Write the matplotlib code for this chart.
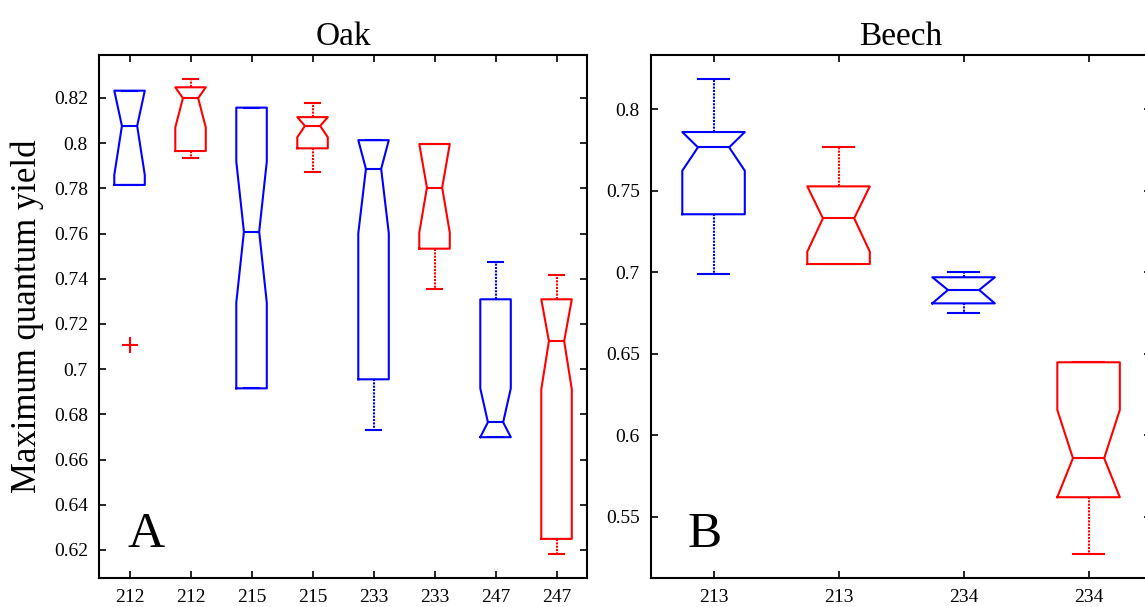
import matplotlib
matplotlib.use("Agg")
import matplotlib.pyplot as plt

plt.rcParams['font.family'] = ['Liberation Serif', 'DejaVu Serif']

# Oak panel (A): notched box stats
oak_labels = ['212', '212', '215', '215', '233', '233', '247', '247']
oak_whislo = [0.7815, 0.7933, 0.6915, 0.7874, 0.6731, 0.7356, 0.6699, 0.6182]
oak_q1 = [0.7815, 0.7965, 0.6915, 0.7977, 0.6955, 0.7533, 0.6699, 0.6249]
oak_cilo = [0.7859, 0.8069, 0.7294, 0.8026, 0.7601, 0.7604, 0.6699, 0.6911]
oak_med = [0.8076, 0.8199, 0.7608, 0.8076, 0.7886, 0.7803, 0.6765, 0.7124]
oak_cihi = [0.8232, 0.8247, 0.7918, 0.8115, 0.8013, 0.7996, 0.6915, 0.7309]
oak_q3 = [0.8232, 0.8247, 0.8157, 0.8115, 0.8013, 0.7996, 0.7309, 0.7309]
oak_whishi = [0.8232, 0.8284, 0.8157, 0.8176, 0.8013, 0.7996, 0.7473, 0.7417]
oak_fliers = [[0.7107], [], [], [], [], [], [], []]
oak_yticks = [0.62, 0.64, 0.66, 0.68, 0.70, 0.72, 0.74, 0.76, 0.78, 0.80, 0.82]
oak_yticklabels = ['0.62', '0.64', '0.66', '0.68', '0.7', '0.72', '0.74', '0.76',
                   '0.78', '0.8', '0.82']

# Beech panel (B)
beech_labels = ['213', '213', '234', '234']
beech_whislo = [0.6987, 0.7050, 0.6748, 0.5273]
beech_q1 = [0.7355, 0.7050, 0.6809, 0.5621]
beech_cilo = [0.7622, 0.7126, 0.6809, 0.5621]
beech_med = [0.7765, 0.7330, 0.6891, 0.5860]
beech_cihi = [0.7859, 0.7526, 0.6969, 0.6156]
beech_q3 = [0.7859, 0.7526, 0.6969, 0.6448]
beech_whishi = [0.8182, 0.7769, 0.7003, 0.6448]
beech_fliers = [[], [], [], []]
beech_yticks = [0.55, 0.60, 0.65, 0.70, 0.75, 0.80]
beech_yticklabels = ['0.55', '0.6', '0.65', '0.7', '0.75', '0.8']

box_colors = ['#0000ff', '#ff0000']


def make_stats(labels, whislo, q1, cilo, med, cihi, q3, whishi, fliers):
    stats = []
    for i in range(len(labels)):
        stats.append({
            'label': labels[i], 'whislo': whislo[i], 'q1': q1[i], 'cilo': cilo[i],
            'med': med[i], 'cihi': cihi[i], 'q3': q3[i], 'whishi': whishi[i],
            'fliers': fliers[i],
        })
    return stats


def draw_panel(ax, stats, yticks, yticklabels, ylim, title, letter, letter_x):
    art = ax.bxp(stats, widths=0.5, shownotches=True, showfliers=True,
                 boxprops=dict(linewidth=1.5), medianprops=dict(linewidth=1.5),
                 whiskerprops=dict(linewidth=1.5, linestyle=(0, (1, 0.6))),
                 capprops=dict(linewidth=1.5),
                 flierprops=dict(marker='+', markersize=11, markeredgewidth=1.5,
                                 markeredgecolor='#ff0000', linestyle='none'))
    for i in range(len(stats)):
        c = box_colors[i % 2]
        art['boxes'][i].set_color(c)
        art['medians'][i].set_color(c)
        for j in (2 * i, 2 * i + 1):
            art['whiskers'][j].set_color(c)
            art['caps'][j].set_color(c)
    ax.set_xlim(0.5, len(stats) + 0.5)
    ax.set_ylim(*ylim)
    ax.set_yticks(yticks)
    ax.set_yticklabels(yticklabels)
    ax.tick_params(direction='in', length=5, width=1.2, labelsize=14,
                   top=True, right=True, pad=8, colors='black')
    for s in ax.spines.values():
        s.set_linewidth(1.5)
    ax.set_title(title, fontsize=24, pad=7)
    ax.text(letter_x, 0.059, letter, transform=ax.transAxes, fontsize=37,
            ha='left', va='baseline')


fig = plt.figure(figsize=(11.45, 6.07), dpi=100)
ax1 = fig.add_axes([0.0865, 0.0478, 0.4262, 0.8624])
ax2 = fig.add_axes([0.5686, 0.0478, 0.4367, 0.8624])

draw_panel(ax1, make_stats(oak_labels, oak_whislo, oak_q1, oak_cilo, oak_med,
                           oak_cihi, oak_q3, oak_whishi, oak_fliers),
           oak_yticks, oak_yticklabels, (0.6076, 0.8392), 'Oak', 'A', 0.059)
draw_panel(ax2, make_stats(beech_labels, beech_whislo, beech_q1, beech_cilo, beech_med,
                           beech_cihi, beech_q3, beech_whishi, beech_fliers),
           beech_yticks, beech_yticklabels, (0.5126, 0.8334), 'Beech', 'B', 0.074)

ax1.set_ylabel('Maximum quantum yield', fontsize=25, labelpad=7)

fig.savefig('out.png', dpi=100)
